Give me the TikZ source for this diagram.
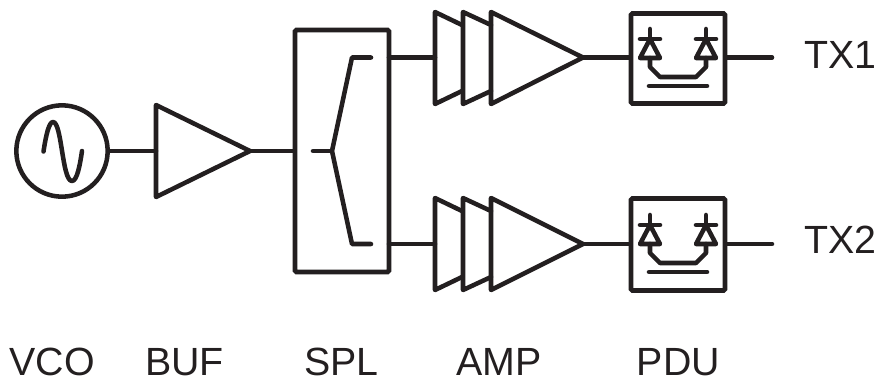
\documentclass[tikz,border=0pt]{standalone}
\usepackage{fontspec}
\setmainfont{Liberation Sans}
\definecolor{ink}{HTML}{231F20}
\tikzset{
  x=0.75pt,y=-0.75pt,
  wire/.style={draw=ink,line width=3.4pt,line cap=round,line join=round},
  lbl/.style={text=ink,font=\fontsize{29.5}{29.5}\selectfont,inner sep=0pt}
}
\newcommand{\ampstage}[1]{%
  \begin{scope}[shift={(0,#1)}]
    \draw[wire] (462,13) -- (435,0) -- (435,92) -- (462,79);
    \draw[wire] (491,13) -- (463,0) -- (463,92) -- (491,79);
  \end{scope}}
\newcommand{\pdubody}[2]{%
  \begin{scope}[shift={(0,#1)}]
    \draw[wire] (650,#2+0) -- (650,#2+10);
    \draw[wire] (640,#2+10) -- (660,#2+10);
    \draw[wire] (650,#2+10) -- (660,#2+29) -- (640,#2+29) -- cycle;
    \draw[wire] (706,#2+0) -- (706,#2+10);
    \draw[wire] (696,#2+10) -- (716,#2+10);
    \draw[wire] (706,#2+10) -- (716,#2+29) -- (696,#2+29) -- cycle;
    \draw[wire] (650,#2+29) -- (650,#2+38) -- (660,#2+48) -- (696,#2+48) -- (706,#2+38) -- (706,#2+29);
    \draw[wire] (649,#2+57) -- (707,#2+57);
  \end{scope}}
\begin{document}
\begin{tikzpicture}
\useasboundingbox (0,0) rectangle (878,380);
% VCO
\node[circle,draw=ink,line width=3.4pt,minimum size=68.5pt,inner sep=0pt] (vco) at (62,151) {};
\draw[wire] (43.5,151.5) .. controls (46,135) and (49,122) .. (53,122) .. controls (62,122) and (62,181) .. (72,181) .. controls (77,181) and (80,165) .. (82,151);
% BUF
\coordinate (bufin) at (156,151);
\coordinate (bufout) at (250,151);
\draw[wire] (156,105) -- (156,197) -- (250,151) -- cycle;
\draw[wire] (vco.east) -- (bufin);
% SPL
\node[draw=ink,line width=3.4pt,rounded corners=1pt,minimum width=70.5pt,minimum height=181.5pt,inner sep=0pt] (spl) at (342,151) {};
\draw[wire] (bufout) -- (spl.west);
\draw[wire] (313,151) -- (332,151);
\draw[wire] (371,57.5) -- (352,57.5) -- (332,151) -- (352,244) -- (371,244);
\coordinate (splo1) at (389,57.5);
\coordinate (splo2) at (389,244);
% AMP
\ampstage{12}
\ampstage{198}
\coordinate (a1in) at (435,57.5);
\coordinate (a1out) at (583,57.5);
\coordinate (a2in) at (435,244);
\coordinate (a2out) at (583,244);
\draw[wire] (491,12) -- (583,57.5) -- (491,104) -- cycle;
\draw[wire] (491,198) -- (583,244) -- (491,290) -- cycle;
\draw[wire] (splo1) -- (a1in);
\draw[wire] (splo2) -- (a2in);
% PDU
\node[draw=ink,line width=3.4pt,rounded corners=1pt,minimum width=70.5pt,minimum height=67.5pt,inner sep=0pt] (pdu1) at (678,58.5) {};
\node[draw=ink,line width=3.4pt,rounded corners=1pt,minimum width=70.5pt,minimum height=69pt,inner sep=0pt] (pdu2) at (678,244.5) {};
\coordinate (tx1) at (772,57.5);
\coordinate (tx2) at (772,244);
\draw[wire] (a1out) -- (a1out -| pdu1.west);
\draw[wire] (a2out) -- (a2out -| pdu2.west);
\pdubody{0}{29}
\pdubody{186}{29}
\draw[wire] (tx1 -| pdu1.east) -- (tx1);
\draw[wire] (tx2 -| pdu2.east) -- (tx2);
% Labels
\node[lbl,anchor=base west] (ltx1) at (804,68) {TX1};
\node[lbl,anchor=base west] (ltx2) at (804,253) {TX2};
\node[lbl,anchor=base] (lvco) at (52,375.5) {VCO};
\node[lbl,anchor=base] (lbuf) at (184.5,375.5) {BUF};
\node[lbl,anchor=base] (lspl) at (341.5,375.5) {SPL};
\node[lbl,anchor=base] (lamp) at (499,375.5) {AMP};
\node[lbl,anchor=base] (lpdu) at (678.5,375.5) {PDU};
\end{tikzpicture}
\end{document}
